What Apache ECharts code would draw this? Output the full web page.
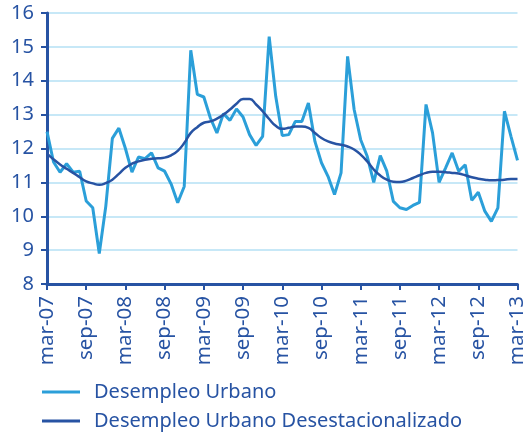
<!DOCTYPE html>
<html><head><meta charset="utf-8">
<script src="https://cdn.jsdelivr.net/npm/echarts@6/dist/echarts.min.js"></script>
<style>html,body{margin:0;padding:0;background:#fff}#c{width:528px;height:434px}</style>
</head><body><div id="c"></div>
<script>
const categories = [
 'mar-07','abr-07','may-07','jun-07','jul-07','ago-07','sep-07','oct-07','nov-07','dic-07','ene-08','feb-08',
 'mar-08','abr-08','may-08','jun-08','jul-08','ago-08','sep-08','oct-08','nov-08','dic-08','ene-09','feb-09',
 'mar-09','abr-09','may-09','jun-09','jul-09','ago-09','sep-09','oct-09','nov-09','dic-09','ene-10','feb-10',
 'mar-10','abr-10','may-10','jun-10','jul-10','ago-10','sep-10','oct-10','nov-10','dic-10','ene-11','feb-11',
 'mar-11','abr-11','may-11','jun-11','jul-11','ago-11','sep-11','oct-11','nov-11','dic-11','ene-12','feb-12',
 'mar-12','abr-12','may-12','jun-12','jul-12','ago-12','sep-12','oct-12','nov-12','dic-12','ene-13','feb-13',
 'mar-13'];
const desempleoUrbano = [
 12.5,11.6,11.3,11.55,11.3,11.33,10.45,10.25,8.9,10.3,12.3,12.6,
 12.0,11.3,11.75,11.7,11.87,11.43,11.33,10.95,10.4,10.88,14.9,13.6,
 13.52,12.9,12.46,13.03,12.83,13.17,12.93,12.41,12.09,12.36,15.3,13.54,
 12.38,12.41,12.8,12.8,13.34,12.21,11.58,11.18,10.64,11.28,14.72,13.15,
 12.26,11.77,11.0,11.79,11.33,10.44,10.25,10.2,10.32,10.41,13.3,12.46,
 11.0,11.43,11.87,11.33,11.52,10.47,10.71,10.15,9.85,10.25,13.1,12.36,
 11.65];
const desempleoDesest = [
 11.85,11.68,11.53,11.4,11.28,11.15,11.03,10.97,10.93,10.98,11.08,11.25,
 11.43,11.55,11.62,11.67,11.7,11.71,11.73,11.8,11.93,12.16,12.46,12.63,
 12.76,12.8,12.88,13.0,13.15,13.32,13.46,13.46,13.3,13.1,12.87,12.67,
 12.58,12.61,12.65,12.65,12.61,12.46,12.31,12.21,12.15,12.11,12.06,11.97,
 11.82,11.62,11.38,11.2,11.08,11.02,11.01,11.05,11.13,11.21,11.28,11.31,
 11.31,11.3,11.28,11.26,11.21,11.15,11.11,11.08,11.06,11.07,11.08,11.1,
 11.1];
const seriesNames = ['Desempleo Urbano','Desempleo Urbano Desestacionalizado'];

const dark = '#2753a3';
const light = '#2b9fd9';
const legendBase = {
  orient:'horizontal', left:42, padding:0,
  icon:'rect', itemWidth:38, itemHeight:3,
  textStyle:{fontFamily:'Noto Sans',fontSize:20,color:dark,padding:[0,0,0,9]}
};
const chart = echarts.init(document.getElementById('c'), null, {renderer:'canvas'});
chart.setOption({
  animation:false,
  grid:{left:47,right:6,top:13,bottom:150,containLabel:false},
  legend:[
    Object.assign({}, legendBase, {top:382, data:[seriesNames[0]]}),
    Object.assign({}, legendBase, {top:411, data:[seriesNames[1]]})
  ],
  xAxis:{
    type:'category', data:categories, boundaryGap:false,
    axisLine:{lineStyle:{color:dark,width:3}},
    axisTick:{show:true,interval:5,length:6,lineStyle:{color:dark,width:2}},
    axisLabel:{interval:5,rotate:90,margin:12,fontFamily:'Noto Sans',fontSize:20.5,color:dark},
    splitLine:{show:false}
  },
  yAxis:{
    type:'value', min:8, max:16, interval:1,
    axisLine:{show:true,lineStyle:{color:dark,width:3}},
    axisTick:{show:true,length:6,lineStyle:{color:dark,width:2}},
    axisLabel:{margin:13,fontFamily:'Noto Sans',fontSize:20,color:dark},
    splitLine:{show:true,lineStyle:{color:'#b5e1f5',width:1.5}}
  },
  series:[
    {name:seriesNames[0],type:'line',data:desempleoUrbano,symbol:'none',
     lineStyle:{color:light,width:3},itemStyle:{color:light}},
    {name:seriesNames[1],type:'line',data:desempleoDesest,symbol:'none',smooth:true,
     lineStyle:{color:dark,width:2.5},itemStyle:{color:dark}}
  ]
});
</script></body></html>
